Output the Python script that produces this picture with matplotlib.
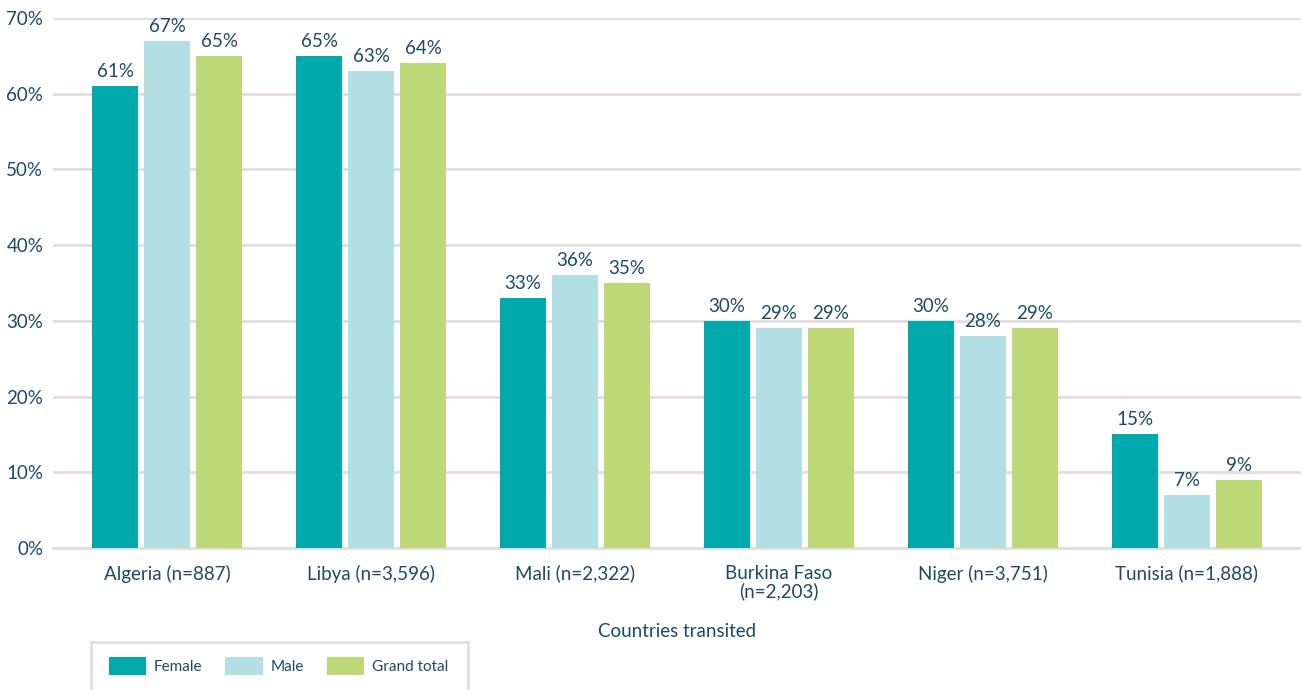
import matplotlib.pyplot as plt
import numpy as np
from matplotlib.patches import Rectangle, Patch

countries = ["Algeria (n=887)", "Libya (n=3,596)", "Mali (n=2,322)",
             "Burkina Faso\n(n=2,203)", "Niger (n=3,751)", "Tunisia (n=1,888)"]
female = [61, 65, 33, 30, 30, 15]
male = [67, 63, 36, 29, 28, 7]
total = [65, 64, 35, 29, 29, 9]
series_names = ["Female", "Male", "Grand total"]
colors = ["#00a9ac", "#b1dfe4", "#bdd877"]

txt = "#1d4a66"
grid_c = "#e3dde0"
plt.rcParams['font.family'] = ['Lato', 'DejaVu Sans']

fig = plt.figure(figsize=(13.01, 6.90), dpi=100)
W, H = 1301, 690
ax = fig.add_axes([53 / W, 142 / H, 1 - 53 / W, (548 - 18) / H])

x = np.arange(len(countries))
width = 0.225
step = 0.255
for k, (vals, c) in enumerate(zip([female, male, total], colors)):
    bars = ax.bar(x + (k - 1) * step, vals, width, color=c, zorder=3)
    for b, v in zip(bars, vals):
        ax.text(b.get_x() + b.get_width() / 2, v + 0.8, f"{v}%",
                ha="center", va="bottom", fontsize=13.5, color=txt)

ax.set_xlim(-0.559, 5.559)
ax.set_ylim(0, 70)
ax.set_yticks(range(0, 71, 10))
ax.set_yticklabels([f"{v}%" for v in range(0, 71, 10)])
ax.set_xticks(x)
ax.set_xticklabels(countries, linespacing=1.05)
ax.tick_params(axis="both", length=0, labelsize=13.5, colors=txt)
ax.tick_params(axis="y", pad=7)
ax.tick_params(axis="x", pad=12)
ax.yaxis.grid(True, color=grid_c, linewidth=2, zorder=0)
for s in ["top", "right", "left"]:
    ax.spines[s].set_visible(False)
ax.spines["bottom"].set_color(grid_c)
ax.spines["bottom"].set_linewidth(2)
ax.set_xlabel("Countries transited", fontsize=13.5, color=txt, labelpad=16)

# legend box (cut at bottom edge as in the reference)
fig.patches.append(Rectangle((91 / W, -20 / H), (468 - 91) / W, (690 - 642 + 20) / H,
                             transform=fig.transFigure, fill=False,
                             edgecolor=grid_c, linewidth=2))
handles = [Patch(facecolor=c) for c in colors]
fig.legend(handles, series_names, loc="center left",
           bbox_to_anchor=(109 / W, 1 - 666 / H), ncol=3, frameon=False,
           borderpad=0, borderaxespad=0,
           fontsize=11, labelcolor=txt, handlelength=2.45, handleheight=1.5,
           columnspacing=1.5, handletextpad=0.5)

fig.savefig("out.png", dpi=100)
